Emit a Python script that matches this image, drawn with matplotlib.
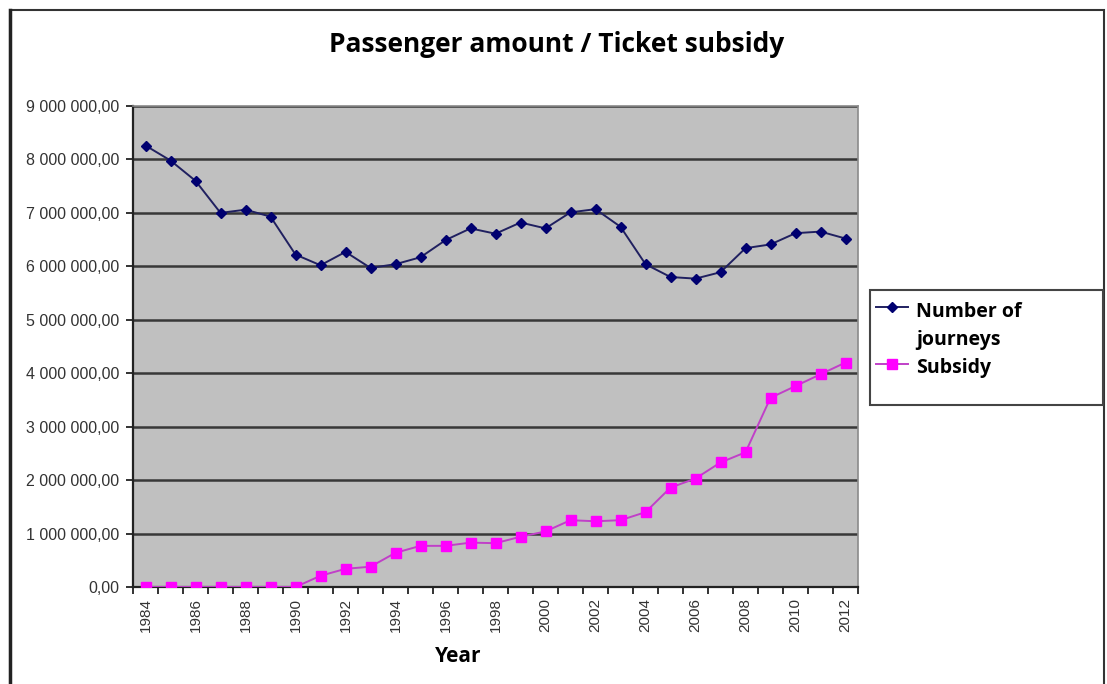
import matplotlib.pyplot as plt
from matplotlib.lines import Line2D
from matplotlib.patches import Rectangle
from matplotlib.ticker import FuncFormatter, FixedLocator

plt.rcParams['font.family'] = ['Liberation Sans', 'DejaVu Sans']

years = list(range(1984, 2013))
journeys = [8.26, 7.98, 7.60, 7.00, 7.06, 6.93, 6.22, 6.02, 6.27, 5.97,
            6.04, 6.17, 6.49, 6.71, 6.61, 6.82, 6.71, 7.01, 7.07, 6.74,
            6.04, 5.80, 5.77, 5.89, 6.34, 6.41, 6.62, 6.65, 6.52]
subsidy = [0, 0, 0, 0, 0, 0, 0, 0.21, 0.34, 0.38,
           0.64, 0.77, 0.77, 0.83, 0.82, 0.94, 1.04, 1.25, 1.23, 1.25,
           1.40, 1.86, 2.03, 2.33, 2.52, 3.54, 3.76, 3.98, 4.20]
journeys = [v * 1e6 for v in journeys]
subsidy = [v * 1e6 for v in subsidy]
series_names = ["Number of\njourneys", "Subsidy"]


def fmt_num(v, pos):
    s = f"{v:,.2f}"
    return s.replace(",", " ").replace(".", ",")


W, H = 1107, 684
fig = plt.figure(figsize=(W / 100, H / 100), dpi=100)
fig.patch.set_facecolor("white")

# outer chart frame
fig.patches.append(Rectangle((10 / W, -0.05), (1104 - 10) / W, 1 - 10 / H + 0.05,
                             transform=fig.transFigure, fill=False,
                             edgecolor="#333333", linewidth=1.5))
fig.add_artist(Line2D([10 / W, 10 / W], [0, 1 - 10 / H], transform=fig.transFigure,
                      color="#222222", linewidth=2.5))

ax = fig.add_axes([133 / W, 97 / H, (858 - 133) / W, (587 - 106) / H])
ax.set_facecolor("#c0c0c0")

j_style = dict(color="#202060", linewidth=1.4, marker="D", markersize=5.5,
               markerfacecolor="#000070", markeredgecolor="#000070")
s_style = dict(color="#c040c8", linewidth=1.4, marker="s", markersize=6.5,
               markerfacecolor="#ff00ff", markeredgecolor="#ff00ff")

x = list(range(len(years)))
ax.plot(x, journeys, zorder=3, **j_style)
ax.plot(x, subsidy, zorder=3, **s_style)

ax.set_xlim(-0.5, len(years) - 0.5)
ax.set_ylim(0, 9e6)
ax.set_yticks([i * 1e6 for i in range(10)])
ax.yaxis.set_major_formatter(FuncFormatter(fmt_num))
ax.grid(axis="y", color="#383838", linewidth=1.8)
ax.set_axisbelow(True)

# year labels every second year, tick marks between categories
ax.set_xticks([i for i in x if years[i] % 2 == 0])
ax.set_xticklabels([str(y) for y in years if y % 2 == 0], rotation=90)
ax.xaxis.set_minor_locator(FixedLocator([i - 0.5 for i in range(len(years) + 1)]))
ax.tick_params(axis="x", which="major", length=0, pad=8, labelsize=11,
               labelcolor="#333333")
ax.tick_params(axis="x", which="minor", length=5, width=1.3, color="#222222")
ax.tick_params(axis="y", length=5, width=1.3, color="#222222", pad=5,
               labelsize=11.5, labelcolor="#333333")

for side in ["top", "right"]:
    ax.spines[side].set_color("#8a8a8a")
    ax.spines[side].set_linewidth(1.2)
for side in ["left", "bottom"]:
    ax.spines[side].set_color("#222222")
    ax.spines[side].set_linewidth(1.6)

fig.text(557 / W, 1 - 45 / H, "Passenger amount / Ticket subsidy", ha="center",
         va="center", fontsize=19, fontweight="bold", family="Open Sans")
fig.text(458 / W, 1 - 656 / H, "Year", ha="center", va="center", fontsize=15,
         fontweight="bold", family="Open Sans")

# legend box, handle sits beside the first line of each label
fig.patches.append(Rectangle((870 / W, 1 - 405 / H), 233 / W, 115 / H,
                             transform=fig.transFigure, facecolor="white",
                             edgecolor="#444444", linewidth=1.5))
for style, label, ly, dy in [(j_style, series_names[0], 307, 5), (s_style, series_names[1], 364, 6)]:
    fig.add_artist(Line2D([876 / W, 908 / W], [1 - ly / H] * 2, transform=fig.transFigure,
                          color=style["color"], linewidth=style["linewidth"]))
    fig.add_artist(Line2D([892 / W], [1 - ly / H], transform=fig.transFigure,
                          linestyle="none", marker=style["marker"],
                          markersize=style["markersize"],
                          markerfacecolor=style["markerfacecolor"],
                          markeredgecolor=style["markeredgecolor"]))
    fig.text(916 / W, 1 - (ly - dy) / H, label, ha="left", va="top", fontsize=14,
             fontweight="bold", family="Open Sans", linespacing=1.55)

fig.savefig("out.png", dpi=100)
